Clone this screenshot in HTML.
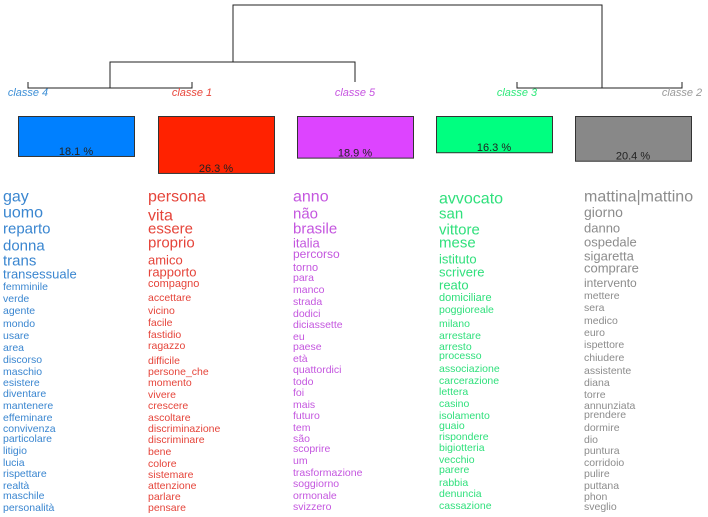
<!DOCTYPE html>
<html><head><meta charset="utf-8"><style>
html,body{margin:0;padding:0;background:#fff;}
svg{display:block;font-family:"Liberation Sans",sans-serif;}
</style></head><body>
<svg id="chart" width="708" height="517" viewBox="0 0 708 517" xmlns="http://www.w3.org/2000/svg">
<g id="tree" stroke="#222" stroke-width="1" fill="none">
<path d="M233 62 V5 H602 V88"/>
<path d="M110 88 V62 H355 V82"/>
<path d="M28 82 V88 H192 V82"/>
<path d="M517 82 V88 H682 V82"/>
</g>
<g id="boxes"></g>
<g id="words"></g>
</svg>
<script>
const classNames = ["classe  4","classe  1","classe  5","classe  3","classe  2"];
const classPct = [18.1, 26.3, 18.9, 16.3, 20.4];
const pctLabels = ["18.1 %","26.3 %","18.9 %","16.3 %","20.4 %"];
const words4 = ["gay","uomo","reparto","donna","trans","transessuale","femminile","verde","agente","mondo","usare","area","discorso","maschio","esistere","diventare","mantenere","effeminare","convivenza","particolare","litigio","lucia","rispettare","realtà","maschile","personalità"];
const words1 = ["persona","vita","essere","proprio","amico","rapporto","compagno","accettare","vicino","facile","fastidio","ragazzo","difficile","persone_che","momento","vivere","crescere","ascoltare","discriminazione","discriminare","bene","colore","sistemare","attenzione","parlare","pensare"];
const words5 = ["anno","não","brasile","italia","percorso","torno","para","manco","strada","dodici","diciassette","eu","paese","età","quattordici","todo","foi","mais","futuro","tem","são","scoprire","um","trasformazione","soggiorno","ormonale","svizzero"];
const words3 = ["avvocato","san","vittore","mese","istituto","scrivere","reato","domiciliare","poggioreale","milano","arrestare","arresto","processo","associazione","carcerazione","lettera","casino","isolamento","guaio","rispondere","bigiotteria","vecchio","parere","rabbia","denuncia","cassazione"];
const words2 = ["mattina|mattino","giorno","danno","ospedale","sigaretta","comprare","intervento","mettere","sera","medico","euro","ispettore","chiudere","assistente","diana","torre","annunziata","prendere","dormire","dio","puntura","corridoio","pulire","puttana","phon","sveglio"];
const NS="http://www.w3.org/2000/svg";
const leafX=[28,192,355,517,682];
const boxX=[18,158,297,436,575];
const boxColors=["#0080ff","#ff2200","#dd44ff","#00ff80","#888888"];
const labelColors=["#3d8fd6","#e8453a","#c653e0","#2ee87a","#999999"];
const textColors=["#3a86d0","#e5443a","#c456df","#30e07c","#8c8c8c"];
function hScale(p){return Math.max(8,p*2.07+2.5);}
const gb=document.getElementById('boxes');
for(let i=0;i<5;i++){
  const t=document.createElementNS(NS,'text');
  
  
  t.setAttribute('x',leafX[i]);t.setAttribute('y',96);
  t.setAttribute('text-anchor','middle');t.setAttribute('font-size','11');
  t.setAttribute('font-style','italic');t.setAttribute('fill',labelColors[i]);
  t.textContent=classNames[i];gb.appendChild(t);
  const h=hScale(classPct[i]);
  const r=document.createElementNS(NS,'rect');
  
  
  r.setAttribute('x',boxX[i]+0.5);r.setAttribute('y',116.5);
  r.setAttribute('width',116);r.setAttribute('height',h);
  r.setAttribute('fill',boxColors[i]);r.setAttribute('stroke','#333');
  gb.appendChild(r);
  const p=document.createElementNS(NS,'text');
  
  
  p.setAttribute('x',boxX[i]+58);p.setAttribute('y',116+h-1);
  p.setAttribute('text-anchor','middle');p.setAttribute('font-size','11');
  p.setAttribute('fill','#222');
  p.textContent=pctLabels[i];gb.appendChild(p);
}
const lists=[words4,words1,words5,words3,words2];
const colX=[3,148,293,439,584];
const sizes=[
 [16,16,15,15,15,13],
 [16,16,15,15,13,13,11],
 [16,15,15,13,12,11],
 [16,15,15,15,13,13,13,11],
 [16,14,13,13,13,13,12]
];
const rowY=[
 [197,213,229,246,261,274,287,299,311,324,336,348,360,372,383,394,406,418,429,439,451,463,474,486,496,508],
 [197,216,229,243,260,272,284,298,311,323,335,346,361,372,383,395,406,418,429,440,452,464,475,486,497,508],
 [197,214,229,243,254,268,278,290,302,314,325,337,347,359,370,382,393,405,416,428,439,449,461,473,484,496,507],
 [199,214,230,243,259,272,285,298,310,324,336,347,356,369,381,392,404,416,426,437,448,460,470,483,494,506],
 [197,212,228,242,256,268,283,296,308,321,333,345,358,371,383,395,406,415,428,440,451,463,474,486,497,507]
];
const gw=document.getElementById('words');
for(let c=0;c<5;c++){
  lists[c].forEach((w,i)=>{
    const s=sizes[c][i]||10.5;
    const y=rowY[c][i]!==undefined?rowY[c][i]:197+i*11.6;
    const t=document.createElementNS(NS,'text');
    
    
    t.setAttribute('x',colX[c]);t.setAttribute('y',y);
    t.setAttribute('dominant-baseline','central');
    t.setAttribute('font-size',s);t.setAttribute('fill',textColors[c]);
    t.textContent=w;gw.appendChild(t);
  });
}
</script>
</body></html>
